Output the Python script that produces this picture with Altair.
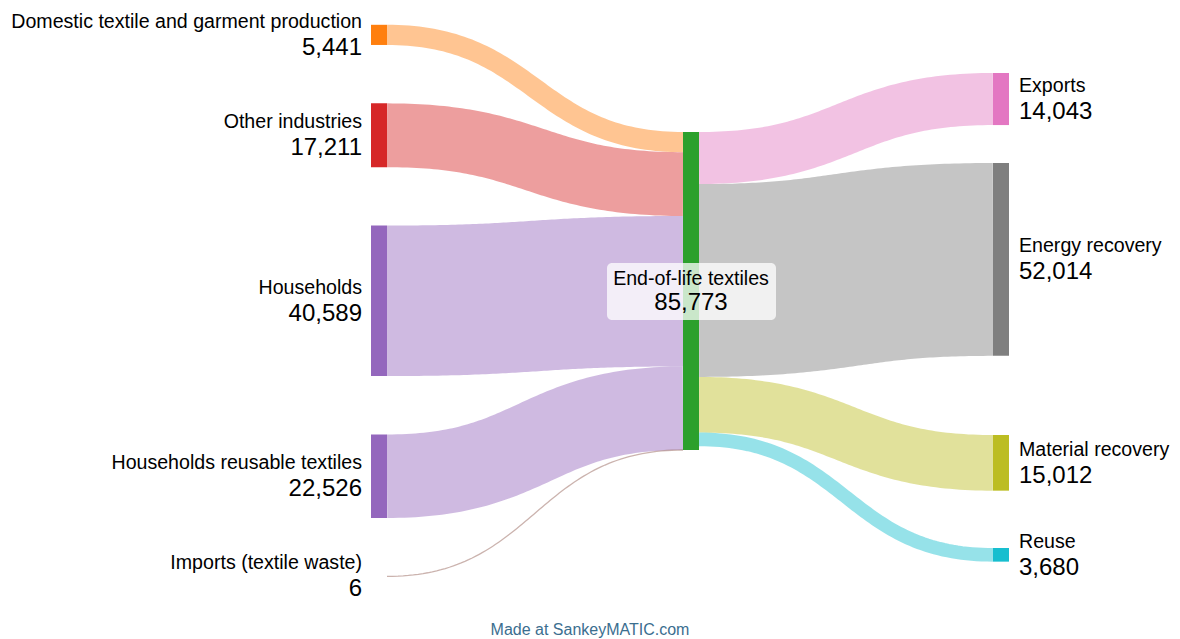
import altair as alt
import pandas as pd
import numpy as np

# ---------------- data ----------------
left_nodes = ["Domestic textile and garment production", "Other industries", "Households",
              "Households reusable textiles", "Imports (textile waste)"]
left_values = [5441, 17211, 40589, 22526, 6]
hub_name = "End-of-life textiles"
right_nodes = ["Exports", "Energy recovery", "Material recovery", "Reuse"]
right_values = [14043, 52014, 15012, 3680]

left_colors = ["#ff7f0e", "#d62728", "#9467bd", "#9467bd", "#8c564b"]
hub_color = "#2ca02c"
right_colors = ["#e377c2", "#7f7f7f", "#bcbd22", "#17becf"]

# ---------------- layout ----------------
W, H = 1180, 639
hub_total = max(sum(left_values), sum(right_values))
k = 318.0 / hub_total          # px per unit
node_w = 16
x_left, x_hub, x_right = 371, 683, 993
left_top, left_gap = 24.8, 58.4
hub_top = 132
right_tops = [73, 163, 435, 548]
FONT = "Liberation Sans, Arial, sans-serif"
NAME_SIZE, VALUE_SIZE = 19.6, 24

def bez(x0, y0, x1, y1, n=80):
    t = np.linspace(0, 1, n)
    xm = (x0 + x1) / 2
    x = (1 - t) ** 3 * x0 + 3 * (1 - t) ** 2 * t * xm + 3 * (1 - t) * t ** 2 * xm + t ** 3 * x1
    y = (1 - t) ** 2 * (1 + 2 * t) * y0 + t ** 2 * (3 - 2 * t) * y1
    return t, x, y

nodes, links, labels = [], [], []

# left column
y = left_top
hub_in = hub_top
for i, (n, v, c) in enumerate(zip(left_nodes, left_values, left_colors)):
    h = v * k
    nodes.append(dict(x=x_left, x2=x_left + node_w, y=y, y2=y + h, color=c))
    labels.append(dict(name=n, value=v, x=x_left - 9, yc=y + h / 2, side="L"))
    t, bx, by = bez(x_left + node_w, y + h / 2, x_hub, hub_in + h / 2)
    for tt, xx, yy in zip(t, bx, by):
        links.append(dict(link=f"L{i}", t=tt, x=xx, y=yy, w=max(h, 1.3), color=c))
    hub_in += h
    y += h + left_gap

# hub
nodes.append(dict(x=x_hub, x2=x_hub + node_w, y=hub_top, y2=hub_top + hub_total * k, color=hub_color))
hub_c = hub_top + hub_total * k / 2

# right column
hub_out = hub_top
for i, (n, v, c, top) in enumerate(zip(right_nodes, right_values, right_colors, right_tops)):
    h = v * k
    nodes.append(dict(x=x_right, x2=x_right + node_w, y=top, y2=top + h, color=c))
    labels.append(dict(name=n, value=v, x=x_right + node_w + 10, yc=top + h / 2, side="R"))
    t, bx, by = bez(x_hub + node_w, hub_out + h / 2, x_right, top + h / 2)
    for tt, xx, yy in zip(t, bx, by):
        links.append(dict(link=f"R{i}", t=tt, x=xx, y=yy, w=max(h, 1.3), color=c))
    hub_out += h

df_nodes = pd.DataFrame(nodes)
df_links = pd.DataFrame(links)
df_lab = pd.DataFrame(labels)
df_lab["yn"] = df_lab["yc"] - 7
df_lab["yv"] = df_lab["yc"] + 20

xs = alt.Scale(domain=[0, W], nice=False, zero=False)
ys = alt.Scale(domain=[0, H], nice=False, zero=False, reverse=True)
X = lambda f: alt.X(f, type="quantitative", scale=xs, axis=None)
Y = lambda f: alt.Y(f, type="quantitative", scale=ys, axis=None)

link_layer = alt.Chart(df_links).mark_line(strokeCap="butt", opacity=0.45).encode(
    x=X("x"), y=Y("y"),
    detail="link:N", order="t:Q",
    color=alt.Color("color:N", scale=None),
    strokeWidth=alt.StrokeWidth("w:Q", scale=None),
)

node_layer = alt.Chart(df_nodes).mark_rect().encode(
    x=X("x"), x2="x2", y=Y("y"), y2="y2",
    color=alt.Color("color:N", scale=None),
)

def label_layers(side, align):
    d = df_lab[df_lab.side == side]
    name = alt.Chart(d).mark_text(align=align, baseline="alphabetic", font=FONT, fontSize=NAME_SIZE, color="#000").encode(
        x=X("x"), y=Y("yn"), text="name:N")
    val = alt.Chart(d).mark_text(align=align, baseline="alphabetic", font=FONT, fontSize=VALUE_SIZE, color="#000").encode(
        x=X("x"), y=Y("yv"), text=alt.Text("value:Q", format=","))
    return name + val

hub_df = pd.DataFrame([dict(name=hub_name, value=hub_total, x=x_hub + node_w / 2,
                            bx=x_hub + node_w / 2 - 84, bx2=x_hub + node_w / 2 + 85,
                            by=hub_c - 28, by2=hub_c + 29, yn=hub_c - 6, yv=hub_c + 19)])
hub_box = alt.Chart(hub_df).mark_rect(fill="white", opacity=0.75, cornerRadius=5).encode(
    x=X("bx"), x2="bx2", y=Y("by"), y2="by2")
hub_name_t = alt.Chart(hub_df).mark_text(align="center", baseline="alphabetic", font=FONT, fontSize=NAME_SIZE, color="#000").encode(
    x=X("x"), y=Y("yn"), text="name:N")
hub_val_t = alt.Chart(hub_df).mark_text(align="center", baseline="alphabetic", font=FONT, fontSize=VALUE_SIZE, color="#000").encode(
    x=X("x"), y=Y("yv"), text=alt.Text("value:Q", format=","))

footer = alt.Chart(pd.DataFrame({"t": ["Made at SankeyMATIC.com"]})).mark_text(
    align="center", baseline="alphabetic", font=FONT, fontSize=16, color="#3b6e8f").encode(
    x=alt.value(590), y=alt.value(635), text="t:N")

chart = alt.layer(
    link_layer, node_layer,
    label_layers("L", "right"), label_layers("R", "left"),
    hub_box, hub_name_t, hub_val_t, footer,
).properties(width=W, height=H, autosize=alt.AutoSizeParams(type="none"), padding=0,
             background="white"
).configure_view(stroke=None, strokeWidth=0)

chart.save("out.html", embed_options={"renderer": "svg", "actions": False})
